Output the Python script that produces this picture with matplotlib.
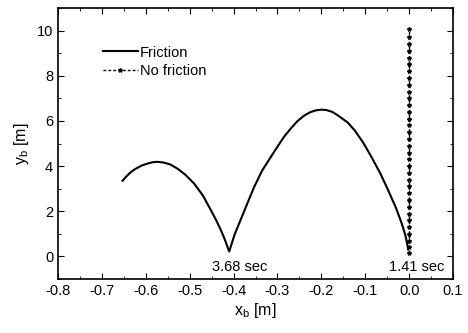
import matplotlib
matplotlib.use("Agg")
import matplotlib.pyplot as plt
from matplotlib.ticker import MultipleLocator

plt.rcParams['font.family'] = ['Liberation Sans', 'DejaVu Sans']

# friction trajectory
fric_x = [-0.653, -0.645, -0.635, -0.625, -0.610, -0.595, -0.585, -0.574, -0.560,
          -0.545, -0.528, -0.510, -0.490, -0.470, -0.452, -0.440, -0.429, -0.420,
          -0.410,
          -0.398, -0.384, -0.368, -0.353, -0.335, -0.315, -0.300, -0.285, -0.269,
          -0.255, -0.239, -0.225, -0.212, -0.200, -0.188, -0.175, -0.162, -0.140,
          -0.124, -0.105, -0.086, -0.065, -0.048, -0.030, -0.017, -0.008, -0.002]
fric_y = [3.35, 3.53, 3.72, 3.86, 4.02, 4.12, 4.17, 4.19, 4.16,
          4.08, 3.89, 3.62, 3.23, 2.70, 2.06, 1.62, 1.17, 0.75,
          0.22,
          0.95, 1.62, 2.38, 3.08, 3.80, 4.41, 4.86, 5.30, 5.68,
          5.98, 6.24, 6.39, 6.47, 6.50, 6.48, 6.40, 6.24, 5.93,
          5.58, 5.05, 4.41, 3.65, 2.94, 2.15, 1.47, 0.90, 0.30]

# no-friction trajectory (vertical bounce at x = 0)
nofric_y = [0.15, 0.40, 0.70, 1.00, 1.30, 1.60, 1.90, 2.20, 2.50, 2.80, 3.10, 3.40,
            3.70, 4.00, 4.30, 4.60, 4.90, 5.20, 5.50, 5.80, 6.10, 6.40, 6.70, 7.00,
            7.30, 7.60, 7.90, 8.20, 8.50, 8.80, 9.10, 9.40, 9.70, 10.05]
nofric_x = [0.0] * len(nofric_y)

fig = plt.figure(figsize=(4.68, 3.33), dpi=100)
ax = fig.add_axes([0.124, 0.162, 0.844, 0.814])

ax.plot(fric_x, fric_y, color='black', lw=1.5, label='Friction')
ax.plot(nofric_x, nofric_y, color='black', lw=1.0, ls=(0, (2, 1.5)),
        marker='*', ms=3, label='No friction')

ax.text(-0.386, -0.45, '3.68 sec', ha='center', va='center', fontsize=10.5)
ax.text(0.017, -0.45, '1.41 sec', ha='center', va='center', fontsize=10.5)

ax.set_xlim(-0.8, 0.1)
ax.set_ylim(-1, 11)
ax.xaxis.set_major_locator(MultipleLocator(0.1))
ax.xaxis.set_minor_locator(MultipleLocator(0.05))
ax.yaxis.set_major_locator(MultipleLocator(2))
ax.yaxis.set_minor_locator(MultipleLocator(1))
ax.set_xticklabels([f'{v:.1f}' for v in ax.get_xticks()])
ax.tick_params(which='both', direction='in', top=True, right=True, labelsize=10.5)
ax.tick_params(which='major', length=4)
ax.tick_params(which='minor', length=2)
for s in ax.spines.values():
    s.set_linewidth(1.2)

ax.set_xlabel(r'x$_\mathregular{b}$ [m]', fontsize=11.5, labelpad=2)
ax.set_ylabel(r'y$_\mathregular{b}$ [m]', fontsize=11.5, labelpad=4)

ax.legend(loc='upper left', bbox_to_anchor=(0.08, 0.91), frameon=False,
          fontsize=10.5, handlelength=2.4, handletextpad=0.15, labelspacing=0.3)

fig.savefig('out.png', dpi=100)
